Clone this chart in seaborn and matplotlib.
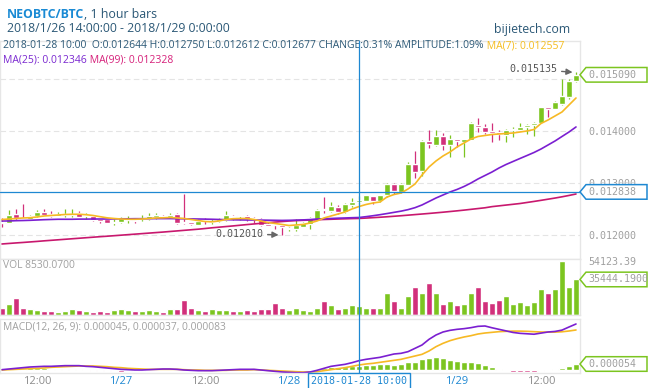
import numpy as np
import pandas as pd
import matplotlib
matplotlib.use("Agg")
import matplotlib.pyplot as plt
from matplotlib.lines import Line2D
from matplotlib.patches import Polygon
from matplotlib.transforms import IdentityTransform
import seaborn as sns

# hourly bars NEO/BTC, 2018-01-26 07:00 .. 2018-01-29 17:00
times = pd.date_range("2018-01-26 07:00", periods=83, freq="h")

open_ = [0.012260, 0.012246, 0.012413, 0.012327, 0.012317, 0.012375, 0.012452, 0.012413, 0.012381, 0.012394,
         0.012400, 0.012433, 0.012369, 0.012375, 0.012312, 0.012312, 0.012246, 0.012260, 0.012304, 0.012298,
         0.012312, 0.012317, 0.012362, 0.012381, 0.012362, 0.012408, 0.012260, 0.012254, 0.012208, 0.012285,
         0.012260, 0.012285, 0.012298, 0.012375, 0.012369, 0.012375, 0.012337, 0.012312, 0.012202, 0.012221,
         0.012208, 0.012125, 0.012119, 0.012169, 0.012221, 0.012312, 0.012496, 0.012477, 0.012542, 0.012452,
         0.012587, 0.012644, 0.012669, 0.012760, 0.012663, 0.012773, 0.012990, 0.012837, 0.012977, 0.013375,
         0.013246, 0.013811, 0.013740, 0.013913, 0.013746, 0.013850, 0.013798, 0.013836, 0.014119, 0.014092,
         0.014015, 0.013990, 0.013938, 0.014035, 0.014029, 0.014092, 0.014119, 0.014158, 0.014465, 0.014438,
         0.014529, 0.014669, 0.014971]
high = [0.012331, 0.012490, 0.012504, 0.012606, 0.012394, 0.012490, 0.012504, 0.012465, 0.012452, 0.012504,
        0.012504, 0.012465, 0.012427, 0.012394, 0.012323, 0.012323, 0.012312, 0.012362, 0.012375, 0.012337,
        0.012388, 0.012433, 0.012427, 0.012400, 0.012427, 0.012438, 0.012798, 0.012269, 0.012323, 0.012337,
        0.012312, 0.012346, 0.012477, 0.012385, 0.012400, 0.012385, 0.012362, 0.012327, 0.012260, 0.012235,
        0.012221, 0.012169, 0.012312, 0.012260, 0.012356, 0.012504, 0.012746, 0.012644, 0.012587, 0.012625,
        0.012727, 0.012750, 0.012788, 0.012769, 0.012785, 0.013010, 0.013000, 0.013000, 0.013413, 0.013619,
        0.013836, 0.014029, 0.014029, 0.013965, 0.013927, 0.013862, 0.013865, 0.014183, 0.014254, 0.014144,
        0.014158, 0.014029, 0.014048, 0.014092, 0.014158, 0.014135, 0.014183, 0.014471, 0.014471, 0.014587,
        0.015004, 0.015004, 0.015135]
low = [0.012169, 0.012235, 0.012298, 0.012298, 0.012308, 0.012362, 0.012388, 0.012362, 0.012375, 0.012362,
       0.012350, 0.012350, 0.012312, 0.012288, 0.012246, 0.012235, 0.012208, 0.012246, 0.012246, 0.012246,
       0.012273, 0.012298, 0.012323, 0.012337, 0.012337, 0.012221, 0.012221, 0.012208, 0.012202, 0.012221,
       0.012221, 0.012269, 0.012285, 0.012298, 0.012298, 0.012273, 0.012235, 0.012183, 0.012183, 0.012125,
       0.012010, 0.012092, 0.012092, 0.012154, 0.012119, 0.012304, 0.012438, 0.012458, 0.012413, 0.012442,
       0.012542, 0.012612, 0.012654, 0.012606, 0.012638, 0.012740, 0.012798, 0.012817, 0.012971, 0.013100,
       0.013144, 0.013683, 0.013721, 0.013644, 0.013504, 0.013708, 0.013504, 0.013827, 0.013996, 0.013952,
       0.013804, 0.013836, 0.013804, 0.013888, 0.014004, 0.013952, 0.013913, 0.014154, 0.014273, 0.014423,
       0.014515, 0.014631, 0.014952]
close = [0.012244, 0.012394, 0.012337, 0.012312, 0.012375, 0.012446, 0.012400, 0.012375, 0.012413, 0.012404,
         0.012413, 0.012362, 0.012381, 0.012298, 0.012285, 0.012246, 0.012260, 0.012337, 0.012317, 0.012285,
         0.012331, 0.012375, 0.012388, 0.012350, 0.012400, 0.012235, 0.012235, 0.012215, 0.012285, 0.012273,
         0.012273, 0.012323, 0.012388, 0.012350, 0.012381, 0.012323, 0.012323, 0.012196, 0.012192, 0.012196,
         0.012169, 0.012144, 0.012202, 0.012235, 0.012331, 0.012490, 0.012485, 0.012567, 0.012452, 0.012606,
         0.012650, 0.012677, 0.012773, 0.012669, 0.012773, 0.012990, 0.012862, 0.012990, 0.013375, 0.013227,
         0.013817, 0.013760, 0.013913, 0.013746, 0.013850, 0.013823, 0.013850, 0.014169, 0.014092, 0.013990,
         0.013965, 0.013952, 0.014029, 0.014048, 0.014092, 0.014125, 0.014169, 0.014465, 0.014427, 0.014567,
         0.014683, 0.014965, 0.015090]
volume = [6900, 10700, 16200, 6550, 5860, 4830, 3790, 3790, 2760, 3790,
          5860, 4830, 3790, 2760, 3790, 2760, 4830, 5860, 4830, 3790,
          3100, 4830, 3450, 2760, 5860, 5860, 14800, 6550, 4480, 3450,
          5170, 4830, 4830, 3450, 3450, 4480, 3450, 5860, 5860, 11700,
          6550, 4480, 6550, 4140, 3790, 6550, 13800, 9650, 5860, 6900,
          9650, 8530.07, 6550, 6550, 6550, 22060, 14130, 6550, 18960, 27580,
          22060, 31370, 22060, 10690, 14130, 9650, 10690, 22060, 28270, 14130,
          11720, 15170, 18960, 10690, 12750, 9650, 12750, 26200, 22060, 26200,
          54123.39, 28270, 35444.19]
ma7 = [0.012308, 0.012317, 0.012327, 0.012337, 0.012342, 0.012356, 0.012375, 0.012385, 0.012394, 0.012404,
       0.012408, 0.012408, 0.012400, 0.012385, 0.012362, 0.012340, 0.012327, 0.012317, 0.012312, 0.012312,
       0.012317, 0.012327, 0.012337, 0.012340, 0.012346, 0.012337, 0.012327, 0.012308, 0.012288, 0.012269,
       0.012263, 0.012279, 0.012308, 0.012323, 0.012327, 0.012327, 0.012308, 0.012279, 0.012250, 0.012231,
       0.012212, 0.012192, 0.012202, 0.012212, 0.012240, 0.012279, 0.012337, 0.012375, 0.012413, 0.012452,
       0.012510, 0.012557, 0.012596, 0.012625, 0.012644, 0.012740, 0.012788, 0.012817, 0.012894, 0.012990,
       0.013163, 0.013317, 0.013433, 0.013529, 0.013606, 0.013702, 0.013779, 0.013856, 0.013904, 0.013923,
       0.013942, 0.013952, 0.013961, 0.013971, 0.013990, 0.014010, 0.014038, 0.014154, 0.014221, 0.014298,
       0.014375, 0.014510, 0.014644]
ma25 = [0.012279, 0.012279, 0.012285, 0.012288, 0.012292, 0.012298, 0.012304, 0.012308, 0.012312, 0.012312,
        0.012312, 0.012315, 0.012315, 0.012317, 0.012317, 0.012317, 0.012319, 0.012321, 0.012321, 0.012323,
        0.012323, 0.012323, 0.012325, 0.012325, 0.012325, 0.012323, 0.012321, 0.012319, 0.012317, 0.012315,
        0.012312, 0.012308, 0.012304, 0.012302, 0.012300, 0.012298, 0.012298, 0.012296, 0.012294, 0.012292,
        0.012290, 0.012292, 0.012296, 0.012300, 0.012306, 0.012317, 0.012321, 0.012327, 0.012333, 0.012337,
        0.012342, 0.012346, 0.012362, 0.012380, 0.012400, 0.012422, 0.012445, 0.012468, 0.012497, 0.012535,
        0.012587, 0.012654, 0.012721, 0.012779, 0.012837, 0.012885, 0.012942, 0.013010, 0.013087, 0.013154,
        0.013221, 0.013298, 0.013365, 0.013423, 0.013481, 0.013538, 0.013596, 0.013663, 0.013740, 0.013817,
        0.013904, 0.013990, 0.014087]
ma99 = [0.011837, 0.011847, 0.011857, 0.011866, 0.011876, 0.011886, 0.011897, 0.011907, 0.011917, 0.011927,
        0.011937, 0.011947, 0.011957, 0.011967, 0.011977, 0.011986, 0.011996, 0.012006, 0.012016, 0.012026,
        0.012036, 0.012046, 0.012056, 0.012066, 0.012077, 0.012088, 0.012099, 0.012110, 0.012121, 0.012134,
        0.012148, 0.012160, 0.012172, 0.012184, 0.012197, 0.012210, 0.012222, 0.012234, 0.012246, 0.012258,
        0.012268, 0.012278, 0.012286, 0.012292, 0.012298, 0.012303, 0.012308, 0.012312, 0.012317, 0.012321,
        0.012325, 0.012328, 0.012335, 0.012343, 0.012351, 0.012360, 0.012370, 0.012380, 0.012391, 0.012402,
        0.012413, 0.012424, 0.012436, 0.012448, 0.012461, 0.012474, 0.012488, 0.012503, 0.012518, 0.012533,
        0.012555, 0.012570, 0.012585, 0.012600, 0.012615, 0.012635, 0.012655, 0.012676, 0.012698, 0.012720,
        0.012744, 0.012770, 0.012798]
# MACD(12, 26, 9), in units of 1e-6 BTC
dif_u = [3, 9, 15, 21, 27, 30, 33, 33, 36, 39,
         39, 39, 33, 30, 24, 18, 12, 6, 3, 0,
         0, 3, 6, 9, 9, 6, 0, -3, -6, -6,
         -6, -3, 0, 3, 6, 6, 6, 0, -6, -12,
         -18, -21, -24, -24, -18, -3, 15, 33, 42, 51,
         66, 84, 96, 105, 114, 129, 144, 150, 165, 195,
         225, 276, 315, 342, 357, 366, 372, 381, 393, 396,
         380, 366, 352, 338, 330, 326, 322, 332, 342, 347,
         359, 387, 414]
dea_u = [0, 3, 6, 9, 12, 15, 18, 24, 27, 30,
         33, 36, 36, 36, 33, 30, 24, 21, 15, 12,
         9, 6, 6, 6, 6, 6, 3, 0, 0, -3,
         -3, -3, -3, 0, 0, 0, 3, 0, -3, -6,
         -9, -12, -15, -18, -18, -15, -6, 3, 12, 21,
         33, 45, 54, 60, 69, 78, 87, 96, 111, 126,
         141, 171, 210, 240, 264, 282, 297, 309, 324, 333,
         339, 345, 348, 350, 350, 348, 345, 342, 341, 341,
         344, 351, 360]
hist_u = [3, 6, 9, 12, 15, 15, 15, 9, 9, 9,
          6, 6, -3, -6, -9, -12, -12, -15, -12, -12,
          -9, -3, 0, 3, 3, 0, -3, -3, -6, -3,
          -3, 0, 3, 3, 6, 6, 3, 0, -3, -6,
          -15, -18, -15, -12, -6, 12, 18, 24, 27, 30,
          36, 37, 45, 45, 51, 54, 48, 54, 69, 69,
          96, 108, 114, 108, 90, 81, 69, 72, 63, 48,
          27, 9, -3, -15, -21, -21, -21, -6, 0, 6,
          15, 36, 54]

cross_i = 51            # hovered bar: 2018-01-28 10:00
cross_price = 0.012838  # hovered price

GREEN = "#7cc520"
RED = "#d1307b"
C_MA7 = "#f7b924"
C_MA25 = "#7b1fd1"
C_MA99 = "#c8186e"
BLUE = "#1e88d2"
DARK = "#2b5876"
GREY = "#a0a0a0"
MONO = "DejaVu Sans Mono"

sns.set_style("white")
plt.rcParams["font.family"] = ["Open Sans", "DejaVu Sans"]

W, H = 648, 388
fig = plt.figure(figsize=(W / 100, H / 100), dpi=100)


def panel(top, bottom):
    a = fig.add_axes([0, 1 - bottom / H, 580 / W, (bottom - top) / H])
    a.set_xlim(-2 / 7, 578 / 7)
    for s in a.spines.values():
        s.set_color("#e6e6e6")
        s.set_linewidth(1)
    a.tick_params(length=0)
    a.set_xticks([])
    a.set_yticks([])
    return a


xs = np.arange(len(close))
o, h, l, c = (np.array(v) for v in (open_, high, low, close))
vol = np.array(volume)
dif = np.array(dif_u) * 1e-6
dea = np.array(dea_u) * 1e-6
hist = np.array(hist_u) * 1e-6
cols = np.where(c >= o, GREEN, RED)

# ---- price panel
ax = panel(41, 259)
ax.set_ylim(0.011548, 0.015740)
for p in (0.012, 0.013, 0.014, 0.015):
    ax.axhline(p, color="#e4e4e4", lw=0.8, ls=(0, (5, 3)), zorder=0)
ax.vlines(xs, l, h, colors=cols, lw=0.9, zorder=2)
body = np.maximum(np.abs(c - o), 0.000022)
ax.bar(xs, body, bottom=np.minimum(o, c), width=0.74, color=cols, zorder=2)
sns.lineplot(x=xs, y=ma99, ax=ax, color=C_MA99, lw=1.2, zorder=3)
sns.lineplot(x=xs, y=ma25, ax=ax, color=C_MA25, lw=1.2, zorder=3)
sns.lineplot(x=xs, y=ma7, ax=ax, color=C_MA7, lw=1.2, zorder=3)
ax.set_xlabel("")
ax.set_ylabel("")
ax.yaxis.tick_right()
ax.set_yticks([0.012, 0.013, 0.014])
ax.set_yticklabels([f"{v:.6f}" for v in (0.012, 0.013, 0.014)],
                   fontfamily=MONO, fontsize=7.2, color=GREY)
ax.tick_params(axis="y", length=0, pad=5.8)
ax.axhline(cross_price, color=BLUE, lw=0.9, zorder=6)

arrow = dict(arrowstyle="-|>", color="#666666", lw=1.0, mutation_scale=9,
             shrinkA=1, shrinkB=2.5)
ih = int(np.argmax(h))
ax.annotate(f"{h[ih]:.6f}", xy=(ih, h[ih]), xytext=(-13.7, 2.3), textcoords="offset points",
            ha="right", va="center", fontfamily=MONO, fontsize=7.2, color="#555555",
            arrowprops=arrow, zorder=7)
il = int(np.argmin(l))
ax.annotate(f"{l[il]:.6f}", xy=(il, l[il]), xytext=(-13.7, 0.9), textcoords="offset points",
            ha="right", va="center", fontfamily=MONO, fontsize=7.2, color="#555555",
            arrowprops=arrow, zorder=7)

# ---- volume panel
axv = panel(259, 314.5)
axv.set_ylim(0, 56150)
axv.bar(xs, vol, width=0.74, color=cols)
axv.yaxis.tick_right()
axv.set_yticks([vol.max()])
axv.set_yticklabels([f"{vol.max():.2f}"], fontfamily=MONO, fontsize=7.2, color=GREY)
axv.tick_params(axis="y", length=0, pad=5.8)

# ---- MACD panel
axm = panel(319, 373)
axm.set_ylim(-27e-6, 459e-6)
axm.bar(xs, hist, width=0.74, color=np.where(hist >= 0, GREEN, RED))
sns.lineplot(x=xs, y=dea, ax=axm, color=C_MA7, lw=1.2)
sns.lineplot(x=xs, y=dif, ax=axm, color=C_MA25, lw=1.2)
axm.set_xlabel("")
axm.set_ylabel("")
# time ticks at midnight and noon; the one under the crosshair date label is covered
tick_idx = [i for i, t in enumerate(times) if t.hour in (0, 12) and abs(i - cross_i) > 3]
axm.set_xticks(tick_idx)
axm.set_xticklabels([f"{times[i].month}/{times[i].day}" if times[i].hour == 0 else "12:00"
                     for i in tick_idx], fontsize=8)
for lab, i in zip(axm.get_xticklabels(), tick_idx):
    lab.set_color(BLUE if times[i].hour == 0 else "#8c8c8c")
axm.tick_params(axis="x", length=0, pad=2)

# ---- texts
r = fig.canvas.get_renderer()


def run(x, y, parts, size):
    for s, color, weight in parts:
        t = fig.text(x / W, 1 - y / H, s, color=color, fontsize=size,
                     fontweight=weight, va="center", ha="left")
        x += t.get_window_extent(r).width
    return x


run(7, 14, [("NEOBTC/BTC", "#1a8ad4", "bold"), (", 1 hour bars", DARK, "normal")], 8.9)
fig.text(7 / W, 1 - 29 / H, "2018/1/26 14:00:00 - 2018/1/29 0:00:00", color=DARK,
         fontsize=8.85, va="center")
fig.text(494 / W, 1 - 29 / H, "bijietech.com", color=DARK, fontsize=8.8, va="center")

k = cross_i
info = (f"{times[k]:%Y-%m-%d %H:%M}  O:{o[k]:.6f} H:{h[k]:.6f} L:{l[k]:.6f} C:{c[k]:.6f} "
        "CHANGE:0.31% AMPLITUDE:1.09%")
run(3, 45.5, [(info, DARK, "normal"), (f" MA(7): {ma7[k]:.6f}", "#f5bd1f", "normal")], 7.5)
run(3, 60, [(f"MA(25): {ma25[k]:.6f}", "#7a28d0", "normal"),
            (f" MA(99): {ma99[k]:.6f}", "#d6207a", "normal")], 7.5)
fig.text(3 / W, 1 - 266 / H, f"VOL {vol[k]:.4f}", color=GREY, fontsize=7.4, va="center")
fig.text(3 / W, 1 - 327 / H, "MACD(12, 26, 9): 0.000045, 0.000037, 0.000083", color=GREY,
         fontsize=7.4, va="center")


def tag(a, value, label, edge):
    y = a.transData.transform((0, value))[1]
    x0 = a.transAxes.transform((1, 0))[0]
    hh = 7.3
    pts = [(x0, y), (x0 + 6, y + hh), (x0 + 67, y + hh), (x0 + 67, y - hh), (x0 + 6, y - hh)]
    fig.add_artist(Polygon(pts, closed=True, facecolor="white", edgecolor=edge, lw=1.1,
                           transform=IdentityTransform(), zorder=10))
    fig.text(x0 + 8, y, label, transform=IdentityTransform(), fontfamily=MONO, fontsize=7.2,
             color=GREY, va="center", ha="left", zorder=11)


tag(ax, c[-1], f"{c[-1]:.6f}", GREEN)
tag(ax, cross_price, f"{cross_price:.6f}", BLUE)
tag(axv, vol[-1], f"{vol[-1]:.4f}", GREEN)
tag(axm, hist[-1], f"{hist[-1]:.6f}", GREEN)

# crosshair vertical line through all panels + date label
xc = ax.transData.transform((cross_i, 0))[0]
fig.add_artist(Line2D([xc, xc], [H - 41, H - 374], color=BLUE, lw=0.9,
                      transform=IdentityTransform(), zorder=9))
fig.text(xc, H - 381, f"{times[k]:%Y-%m-%d %H:%M}", transform=IdentityTransform(),
         fontfamily=MONO, fontsize=7.2, color=BLUE, ha="center", va="center", zorder=12,
         bbox=dict(boxstyle="square,pad=0.3", fc="white", ec=BLUE, lw=1))

fig.savefig("out.png", dpi=100)
